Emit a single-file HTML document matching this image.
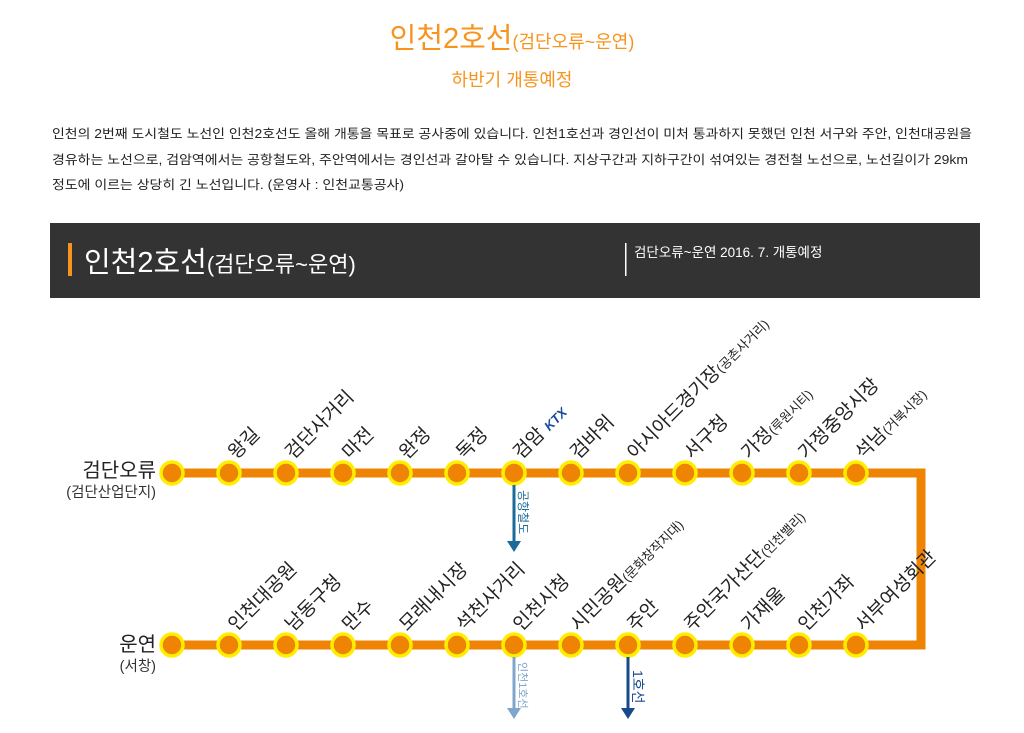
<!DOCTYPE html>
<html><head><meta charset="utf-8"><style>
html,body{margin:0;padding:0;background:#fff;width:1024px;height:733px;overflow:hidden}
svg{display:block;font-family:"Liberation Sans","Noto Sans CJK KR",sans-serif}
</style></head><body>
<svg width="1024" height="733" viewBox="0 0 1024 733" xmlns="http://www.w3.org/2000/svg">
<text x="512" y="48" text-anchor="middle" fill="#f7941d" font-size="29"><tspan>인천2호선</tspan><tspan font-size="18">(검단오류~운연)</tspan></text>
<text x="512" y="86" text-anchor="middle" fill="#f7941d" font-size="18">하반기 개통예정</text>
<g font-size="12.5" fill="#222">
<text x="52" y="138" textLength="920" lengthAdjust="spacingAndGlyphs">인천의 2번째 도시철도 노선인 인천2호선도 올해 개통을 목표로 공사중에 있습니다. 인천1호선과 경인선이 미처 통과하지 못했던 인천 서구와 주안, 인천대공원을</text>
<text x="52" y="164" textLength="916" lengthAdjust="spacingAndGlyphs">경유하는 노선으로, 검암역에서는 공항철도와, 주안역에서는 경인선과 갈아탈 수 있습니다. 지상구간과 지하구간이 섞여있는 경전철 노선으로, 노선길이가 29km</text>
<text x="52" y="189" textLength="352" lengthAdjust="spacingAndGlyphs">정도에 이르는 상당히 긴 노선입니다. (운영사 : 인천교통공사)</text>
</g>
<rect x="50" y="223" width="930" height="75" fill="#333"/>
<rect x="68" y="243" width="4" height="33" fill="#f7941d"/>
<text x="84" y="272" fill="#fff" font-size="29"><tspan>인천2호선</tspan><tspan font-size="22">(검단오류~운연)</tspan></text>
<rect x="625" y="243" width="1.5" height="33" fill="#fff"/>
<text x="634" y="257" fill="#fff" font-size="13.5">검단오류~운연 2016. 7. 개통예정</text>
<polyline points="172,473 921,473 921,645 172,645" fill="none" stroke="#ee8304" stroke-width="9"/>
<g fill="#ee8304" stroke="#ffee00" stroke-width="3.5">
<circle cx="172" cy="473" r="11"/><circle cx="229" cy="473" r="11"/><circle cx="286" cy="473" r="11"/><circle cx="343" cy="473" r="11"/><circle cx="400" cy="473" r="11"/><circle cx="457" cy="473" r="11"/><circle cx="514" cy="473" r="11"/><circle cx="571" cy="473" r="11"/><circle cx="628" cy="473" r="11"/><circle cx="685" cy="473" r="11"/><circle cx="742" cy="473" r="11"/><circle cx="799" cy="473" r="11"/><circle cx="856" cy="473" r="11"/>
<circle cx="172" cy="645" r="11"/><circle cx="229" cy="645" r="11"/><circle cx="286" cy="645" r="11"/><circle cx="343" cy="645" r="11"/><circle cx="400" cy="645" r="11"/><circle cx="457" cy="645" r="11"/><circle cx="514" cy="645" r="11"/><circle cx="571" cy="645" r="11"/><circle cx="628" cy="645" r="11"/><circle cx="685" cy="645" r="11"/><circle cx="742" cy="645" r="11"/><circle cx="799" cy="645" r="11"/><circle cx="856" cy="645" r="11"/>
</g>
<text x="156" y="477" text-anchor="end" font-size="20" fill="#222">검단오류</text>
<text x="156" y="497" text-anchor="end" font-size="14.5" fill="#333">(검단산업단지)</text>
<text x="156" y="651" text-anchor="end" font-size="20" fill="#222">운연</text>
<text x="156" y="671" text-anchor="end" font-size="14.5" fill="#333">(서창)</text>
<g font-size="19" fill="#222">
<text transform="translate(236,460) rotate(-45)">왕길</text>
<text transform="translate(293,460) rotate(-45)">검단사거리</text>
<text transform="translate(350,460) rotate(-45)">마전</text>
<text transform="translate(407,460) rotate(-45)">완정</text>
<text transform="translate(464,460) rotate(-45)">독정</text>
<text transform="translate(521,460) rotate(-45)">검암 <tspan fill="#1a4a9c" font-weight="bold" font-style="italic" font-size="13">KTX</tspan></text>
<text transform="translate(578,460) rotate(-45)">검바위</text>
<text transform="translate(635,460) rotate(-45)">아시아드경기장<tspan font-size="13">(공촌사거리)</tspan></text>
<text transform="translate(692,460) rotate(-45)">서구청</text>
<text transform="translate(749,460) rotate(-45)">가정<tspan font-size="13">(루원시티)</tspan></text>
<text transform="translate(806,460) rotate(-45)">가정중앙시장</text>
<text transform="translate(863,460) rotate(-45)">석남<tspan font-size="13">(거북시장)</tspan></text>
<text transform="translate(236,632) rotate(-45)">인천대공원</text>
<text transform="translate(293,632) rotate(-45)">남동구청</text>
<text transform="translate(350,632) rotate(-45)">만수</text>
<text transform="translate(407,632) rotate(-45)">모래내시장</text>
<text transform="translate(464,632) rotate(-45)">석천사거리</text>
<text transform="translate(521,632) rotate(-45)">인천시청</text>
<text transform="translate(578,632) rotate(-45)">시민공원<tspan font-size="13">(문화창작지대)</tspan></text>
<text transform="translate(635,632) rotate(-45)">주안</text>
<text transform="translate(692,632) rotate(-45)">주안국가산단<tspan font-size="13">(인천밸리)</tspan></text>
<text transform="translate(749,632) rotate(-45)">가재울</text>
<text transform="translate(806,632) rotate(-45)">인천가좌</text>
<text transform="translate(863,632) rotate(-45)">서부여성회관</text>
</g>
<line x1="514" y1="485" x2="514" y2="542" stroke="#1a6a9a" stroke-width="3"/>
<polygon points="507,541 521,541 514,552" fill="#1a6a9a"/>
<text transform="translate(519,490) rotate(90)" font-size="12" fill="#1a6a9a">공항철도</text>
<line x1="514" y1="657" x2="514" y2="710" stroke="#7fa6cc" stroke-width="3"/>
<polygon points="507,708 521,708 514,719" fill="#7fa6cc"/>
<text transform="translate(519,662) rotate(90)" font-size="11" fill="#7fa6cc">인천1호선</text>
<line x1="628" y1="657" x2="628" y2="710" stroke="#164a8a" stroke-width="3"/>
<polygon points="621,708 635,708 628,719" fill="#164a8a"/>
<text transform="translate(633,670) rotate(90)" font-size="14" fill="#164a8a">1호선</text>
</svg>
</body></html>
